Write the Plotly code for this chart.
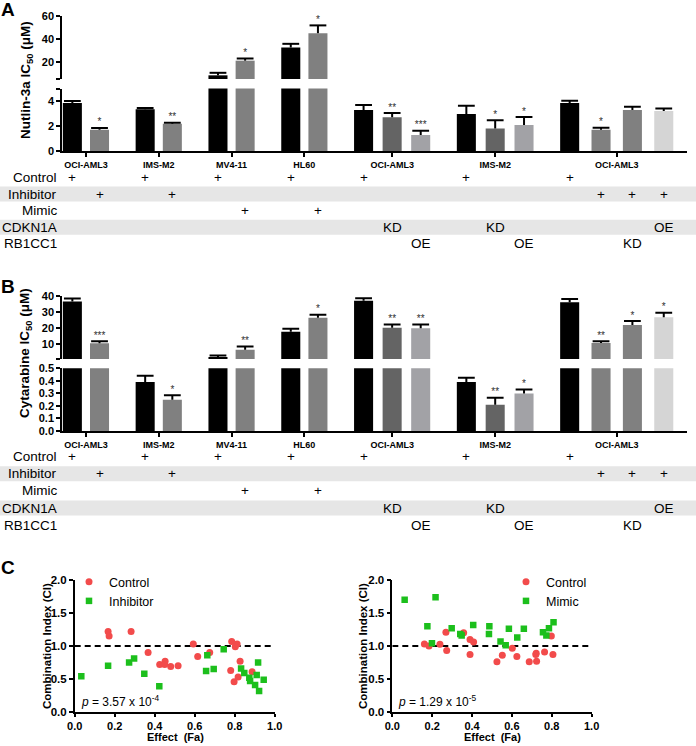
import plotly.graph_objects as go

W, H = 696, 746
FONT = "Liberation Sans, Arial, sans-serif"

# ---------------- data ----------------
cell_lines = ["OCI-AML3", "IMS-M2", "MV4-11", "HL60", "OCI-AML3", "IMS-M2", "OCI-AML3"]
bars_per_group = [2, 2, 2, 2, 3, 3, 4]

nutlin_mean = [3.85, 1.70, 3.35, 2.18, 8.2, 21.0, 32.5, 45.0,
               3.28, 2.70, 1.28, 2.96, 1.81, 2.08, 3.84, 1.71, 3.28, 3.20]
nutlin_sd = [0.15, 0.15, 0.10, 0.08, 2.2, 1.9, 3.2, 6.8,
             0.40, 0.34, 0.35, 0.67, 0.64, 0.64, 0.18, 0.16, 0.27, 0.21]
nutlin_sig = ["", "*", "", "**", "", "*", "", "*",
              "", "**", "***", "", "*", "*", "", "*", "", ""]

cytarabine_mean = [36.5, 10.7, 0.39, 0.25, 2.3, 6.7, 17.8, 26.4,
                   36.9, 20.2, 20.0, 0.39, 0.21, 0.30, 35.9, 10.8, 21.9, 26.7]
cytarabine_sd = [1.8, 1.3, 0.05, 0.035, 0.9, 2.0, 1.8, 1.9,
                 1.5, 2.1, 2.2, 0.035, 0.055, 0.03, 2.0, 1.2, 2.5, 2.8]
cytarabine_sig = ["", "***", "", "*", "", "**", "", "*",
                  "", "**", "**", "", "**", "*", "", "**", "*", "*"]

row_names = ["Control", "Inhibitor", "Mimic", "CDKN1A", "RB1CC1"]
control = ["+", "", "+", "", "+", "", "+", "", "+", "", "", "+", "", "", "+", "", "", ""]
inhibitor = ["", "+", "", "+", "", "", "", "", "", "", "", "", "", "", "", "+", "+", "+"]
mimic = ["", "", "", "", "", "+", "", "+", "", "", "", "", "", "", "", "", "", ""]
cdkn1a = ["", "", "", "", "", "", "", "", "", "KD", "", "", "KD", "", "", "", "", "OE"]
rb1cc1 = ["", "", "", "", "", "", "", "", "", "", "OE", "", "", "OE", "", "", "KD", ""]

ctrl_inh_fa = [0.167, 0.172, 0.282, 0.367, 0.425, 0.452, 0.45, 0.48, 0.517, 0.593,
               0.615, 0.675, 0.785, 0.812, 0.803, 0.827, 0.78, 0.797, 0.817, 0.887]
ctrl_inh_ci = [1.22, 1.15, 1.22, 0.90, 0.72, 0.77, 0.72, 0.69, 0.70, 1.03,
               0.84, 0.90, 1.07, 1.03, 0.99, 0.77, 0.63, 0.46, 0.53, 0.61]
inh_fa = [0.033, 0.167, 0.272, 0.297, 0.348, 0.423, 0.663, 0.657, 0.695, 0.745,
          0.832, 0.848, 0.873, 0.877, 0.902, 0.91, 0.917, 0.922, 0.945]
inh_ci = [0.54, 0.70, 0.75, 0.81, 0.58, 0.39, 0.86, 0.62, 0.65, 0.95,
          0.66, 0.59, 0.52, 0.47, 0.41, 0.56, 0.75, 0.32, 0.49]

ctrl_mim_fa = [0.161, 0.184, 0.239, 0.269, 0.273, 0.358, 0.39, 0.408, 0.39, 0.525,
               0.552, 0.602, 0.625, 0.687, 0.722, 0.72, 0.724, 0.764, 0.798, 0.806]
ctrl_mim_ci = [1.03, 1.0, 1.025, 1.21, 0.93, 1.20, 1.10, 1.06, 0.87, 0.76,
               0.86, 0.965, 0.84, 0.76, 0.89, 0.87, 0.77, 0.91, 1.15, 0.87]
mim_fa = [0.062, 0.217, 0.176, 0.199, 0.298, 0.341, 0.348, 0.406, 0.487, 0.485,
          0.543, 0.569, 0.585, 0.627, 0.66, 0.756, 0.773, 0.786, 0.809]
mim_ci = [1.70, 1.74, 1.30, 1.04, 1.27, 1.18, 1.16, 1.32, 1.30, 1.18,
          1.07, 1.01, 1.26, 1.13, 1.26, 1.21, 1.16, 1.27, 1.36]

# ---------------- styling ----------------
BLACK, GRAY, DARK, LIGHT, PALE = "#000000", "#808080", "#646464", "#a2a2a6", "#d5d5d5"
bar_colors = [BLACK, GRAY, BLACK, GRAY, BLACK, GRAY, BLACK, GRAY,
              BLACK, DARK, LIGHT, BLACK, DARK, LIGHT, BLACK, GRAY, GRAY, PALE]
RED, GREEN = "#f24b4b", "#1cbf1c"


def py(p):
    return 1 - p / H


def pxx(p):
    return p / W


# bar slot positions (one slot ~ 28 px)
in_group_step = [0.97, 0.97, 0.97, 0.97, 1.02, 1.03, 1.12]
xpos, centers = [], []
x0 = 0.37
for n, step in zip(bars_per_group, in_group_step):
    grp = [x0 + i * step for i in range(n)]
    xpos += grp
    centers.append(sum(grp) / n)
    x0 = grp[-1] + 1.63

fig = go.Figure()

axis_common = dict(showline=True, linecolor="black", linewidth=1.5, ticks="outside",
                   ticklen=4, tickwidth=1.5, tickcolor="black", showgrid=False,
                   zeroline=False, tickfont=dict(family=FONT, size=11, color="black"))


def bar_panel(xa, ya_lo, ya_hi, means, sds, sig, brk):
    tops = [m + s for m, s in zip(means, sds)]
    for ya in (ya_lo, ya_hi):
        fig.add_trace(go.Bar(
            x=xpos, y=means, xaxis=xa, yaxis=ya, width=0.68,
            marker=dict(color=bar_colors, line=dict(width=0)),
            error_y=dict(type="data", symmetric=False, array=sds,
                         arrayminus=[0] * len(sds), color="black", thickness=2, width=0),
            showlegend=False, hoverinfo="skip"))
        fig.add_trace(go.Scatter(
            x=xpos, y=tops, xaxis=xa, yaxis=ya, mode="markers",
            marker=dict(symbol="line-ew", size=12, line=dict(width=2, color="black")),
            showlegend=False, hoverinfo="skip"))
    lo = [i for i, t in enumerate(tops) if t <= brk and sig[i]]
    hi = [i for i, t in enumerate(tops) if t > brk and sig[i]]
    for ya, idx in ((ya_lo, lo), (ya_hi, hi)):
        fig.add_trace(go.Scatter(
            x=[xpos[i] for i in idx], y=[tops[i] for i in idx], text=[sig[i] for i in idx],
            xaxis=xa, yaxis=ya, mode="text", textposition="top center", cliponaxis=False,
            textfont=dict(family=FONT, size=10, color="#303030"),
            showlegend=False, hoverinfo="skip"))


bar_panel("x", "y", "y2", nutlin_mean, nutlin_sd, nutlin_sig, 5)
bar_panel("x2", "y3", "y4", cytarabine_mean, cytarabine_sd, cytarabine_sig, 1)


# panel C scatter
def ci_panel(xa, ya, fa1, ci1, fa2, ci2, name2, leg):
    fig.add_trace(go.Scatter(x=fa1, y=ci1, xaxis=xa, yaxis=ya, mode="markers", name="Control",
                             marker=dict(symbol="circle", size=7, color=RED), legend=leg))
    fig.add_trace(go.Scatter(x=fa2, y=ci2, xaxis=xa, yaxis=ya, mode="markers", name=name2,
                             marker=dict(symbol="square", size=6.5, color=GREEN), legend=leg))
    fig.add_shape(type="line", xref=xa, yref=ya, x0=0, x1=1, y0=1, y1=1, layer="below",
                  line=dict(color="black", width=2, dash="6px,4px"))
    for label, yv in (("Antagonistic", 1.42), ("Additive", 1.0), ("Synergistic", 0.53)):
        fig.add_annotation(xref=xa, yref=ya, x=1.01, y=yv, text="<i>%s</i>" % label,
                           showarrow=False, xanchor="left", yanchor="middle",
                           font=dict(family=FONT, size=12, color="#222222"))


ci_panel("x3", "y5", ctrl_inh_fa, ctrl_inh_ci, inh_fa, inh_ci, "Inhibitor", "legend")
ci_panel("x4", "y6", ctrl_mim_fa, ctrl_mim_ci, mim_fa, mim_ci, "Mimic", "legend2")

bar_x = dict(axis_common, domain=[pxx(62), pxx(687)], range=[0, 22.32],
             tickvals=centers, ticktext=["<b>%s</b>" % c for c in cell_lines],
             tickfont=dict(family=FONT, size=9, color="black"))
c_ticks_x = dict(tickvals=[0, 0.2, 0.4, 0.6, 0.8, 1.0],
                 ticktext=["<b>%.1f</b>" % v for v in (0, 0.2, 0.4, 0.6, 0.8, 1.0)],
                 tickfont=dict(family=FONT, size=11, color="black"), ticklen=3)
c_ticks_y = dict(tickvals=[0, 0.5, 1, 1.5, 2],
                 ticktext=["<b>%.1f</b>" % v for v in (0, 0.5, 1, 1.5, 2)],
                 tickfont=dict(family=FONT, size=11.5, color="black"))

fig.update_layout(
    width=W, height=H, margin=dict(l=0, r=0, t=0, b=0, autoexpand=False),
    paper_bgcolor="white", plot_bgcolor="white",
    font=dict(family=FONT, color="black"),
    xaxis=dict(bar_x, anchor="y"),
    yaxis=dict(axis_common, domain=[py(151), py(88.5)], range=[0, 5], anchor="x",
               tickvals=[0, 2, 4, 5], ticktext=["<b>0</b>", "<b>2</b>", "<b>4</b>", ""]),
    yaxis2=dict(axis_common, domain=[py(79), py(16)], range=[5, 60], anchor="x",
                tickvals=[5, 20, 40, 60], ticktext=["", "<b>20</b>", "<b>40</b>", "<b>60</b>"]),
    xaxis2=dict(bar_x, anchor="y3"),
    yaxis3=dict(axis_common, domain=[py(431), py(368.3)], range=[0, 0.5], anchor="x2",
                tickvals=[0, 0.1, 0.2, 0.3, 0.4, 0.5],
                ticktext=["<b>%.1f</b>" % v for v in (0, 0.1, 0.2, 0.3, 0.4, 0.5)]),
    yaxis4=dict(axis_common, domain=[py(359), py(295.7)], range=[1, 40], anchor="x2",
                tickvals=[1, 10, 20, 30, 40],
                ticktext=["", "<b>10</b>", "<b>20</b>", "<b>30</b>", "<b>40</b>"]),
    xaxis3=dict(axis_common, domain=[pxx(74.7), pxx(274.7)], range=[0, 1], anchor="y5", **c_ticks_x),
    yaxis5=dict(axis_common, domain=[py(712), py(580)], range=[0, 2], anchor="x3", **c_ticks_y),
    xaxis4=dict(axis_common, domain=[pxx(392.3), pxx(591.6)], range=[0, 1], anchor="y6", **c_ticks_x),
    yaxis6=dict(axis_common, domain=[py(712), py(580)], range=[0, 2], anchor="x4", **c_ticks_y),
    legend=dict(x=pxx(69), y=py(567), xanchor="left", yanchor="top", bgcolor="rgba(0,0,0,0)",
                font=dict(family=FONT, size=12.5), tracegroupgap=0),
    legend2=dict(x=pxx(506), y=py(567), xanchor="left", yanchor="top", bgcolor="rgba(0,0,0,0)",
                 font=dict(family=FONT, size=12.5), tracegroupgap=0),
)

# condition table under panels A and B
table_values = [control, inhibitor, mimic, cdkn1a, rb1cc1]
for xa, first_row, step in (("x", 177.5, 16.6), ("x2", 456.5, 17.2)):
    for r, (name, vals) in enumerate(zip(row_names, table_values)):
        yc = first_row + r * step
        if r in (1, 3):
            fig.add_shape(type="rect", xref="paper", yref="paper", x0=0, x1=1,
                          y0=py(yc + 7.5), y1=py(yc - 7.5), fillcolor="#e6e6e6",
                          line=dict(width=0), layer="below")
        fig.add_annotation(xref="paper", yref="paper", x=pxx(59), y=py(yc), text=name,
                           showarrow=False, xanchor="right", yanchor="middle",
                           font=dict(family=FONT, size=13.5, color="black"))
        for xv, v in zip(xpos, vals):
            if v:
                fig.add_annotation(xref=xa, yref="paper", x=xv, y=py(yc), text=v,
                                   showarrow=False, xanchor="center", yanchor="middle",
                                   font=dict(family=FONT, size=13.5, color="black"))

# axis titles, p-values, panel letters
texts = [
    (27, 80, "<b>Nutlin-3a IC<sub>50</sub> (μM)</b>", 13.5, -90),
    (25, 353, "<b>Cytarabine IC<sub>50</sub> (μM)</b>", 13.5, -90),
    (47, 646, "<b>Combination Index (CI)</b>", 11.5, -90),
    (363, 646, "<b>Combination Index (CI)</b>", 11.5, -90),
    (175, 737, "<b>Effect  (Fa)</b>", 11, 0),
    (492, 737, "<b>Effect  (Fa)</b>", 11, 0),
    (8, 9, "<b>A</b>", 19, 0),
    (8, 287, "<b>B</b>", 19, 0),
    (8, 567, "<b>C</b>", 19, 0),
]
for xp, yp, t, size, ang in texts:
    fig.add_annotation(xref="paper", yref="paper", x=pxx(xp), y=py(yp), text=t,
                       showarrow=False, textangle=ang, xanchor="center", yanchor="middle",
                       font=dict(family=FONT, size=size, color="black"))

for xp, t in ((79, "<i>p</i> = 3.57 x 10<sup>-4</sup>"), (396, "<i>p</i> = 1.29 x 10<sup>-5</sup>")):
    fig.add_annotation(xref="paper", yref="paper", x=pxx(xp), y=py(701), text=t,
                       showarrow=False, xanchor="left", yanchor="middle",
                       font=dict(family=FONT, size=12, color="black"))

# page body margin would otherwise shift the fixed-size figure by 8 px
fig.write_html("out.html", config={"displayModeBar": False},
               post_script="document.body.style.margin='0';"
                           "document.body.style.overflow='hidden';")
